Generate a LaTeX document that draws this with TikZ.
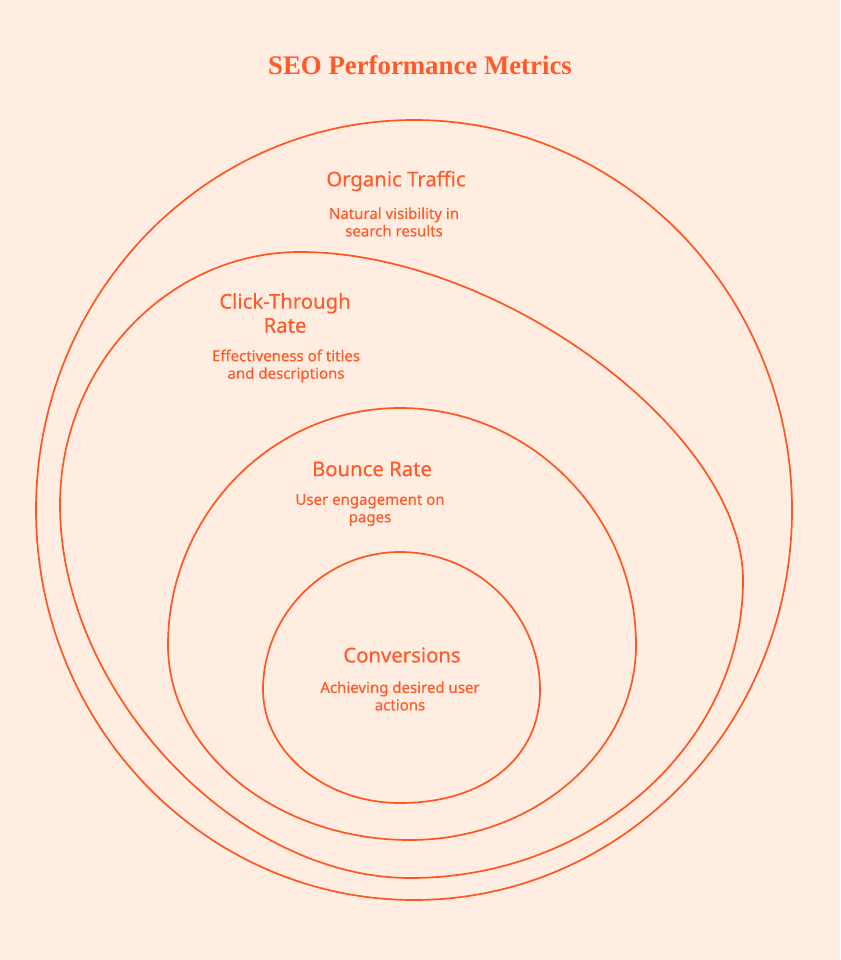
\documentclass[tikz,border=0pt]{standalone}
\usepackage{fontspec}
\setmainfont{Noto Sans}
\newfontfamily\labelfont[FakeBold=0.35]{Noto Sans}
\newfontfamily\titlefont{Liberation Serif}
\definecolor{bgc}{HTML}{FFEDE2}
\definecolor{linec}{HTML}{FF5722}
\definecolor{textc}{HTML}{FF5A28}
\begin{document}
\begin{tikzpicture}[x=1pt,y=-1pt,
  ring/.style={draw=linec,line width=1.7pt},
  head/.style={text=textc,font=\labelfont\fontsize{20.3}{24}\selectfont,align=center,inner sep=0pt},
  desc/.style={text=textc,font=\labelfont\fontsize{15}{17.5}\selectfont,align=center,inner sep=0pt}]
\fill[bgc] (0,0) rectangle (840,960);
\useasboundingbox (0,0) rectangle (840,960);
\node[text=textc,font=\titlefont\bfseries\fontsize{26.8}{30}\selectfont,inner sep=0pt] (title) at (420,65) {SEO Performance Metrics};
% outer
\draw[ring] (414,510) ellipse [x radius=378, y radius=390];
% click-through
\draw[ring] (300,252) .. controls (499,252) and (743,432) .. (743,580)
  .. controls (743,744) and (593,878) .. (410,878)
  .. controls (235,878) and (60,691) .. (60,505)
  .. controls (60,366) and (168,252) .. (300,252) -- cycle;
% bounce
\draw[ring] (400,408) .. controls (530,408) and (636,515) .. (636,645)
  .. controls (636,752) and (534,840) .. (410,840)
  .. controls (277,840) and (168,752) .. (168,645)
  .. controls (168,515) and (272,408) .. (400,408) -- cycle;
% conversions
\draw[ring] (400,552) .. controls (477,552) and (540,614) .. (540,690)
  .. controls (540,758) and (484,803) .. (400,803)
  .. controls (325,803) and (263,752) .. (263,690)
  .. controls (263,614) and (325,552) .. (400,552) -- cycle;
\node[head] (h1) at (396,181) {Organic Traffic};
\node[desc] (d1) at (394,222) {Natural visibility in\\search results};
\node[head] (h2) at (285,313) {Click-Through\\Rate};
\node[desc] (d2) at (286,366) {Effectiveness of titles\\and descriptions};
\node[head] (h3) at (372,469) {Bounce Rate};
\node[desc] (d3) at (370,510) {User engagement on\\pages};
\node[head] (h4) at (402,655) {Conversions};
\node[desc] (d4) at (400,696) {Achieving desired user\\actions};
\end{tikzpicture}
\end{document}
